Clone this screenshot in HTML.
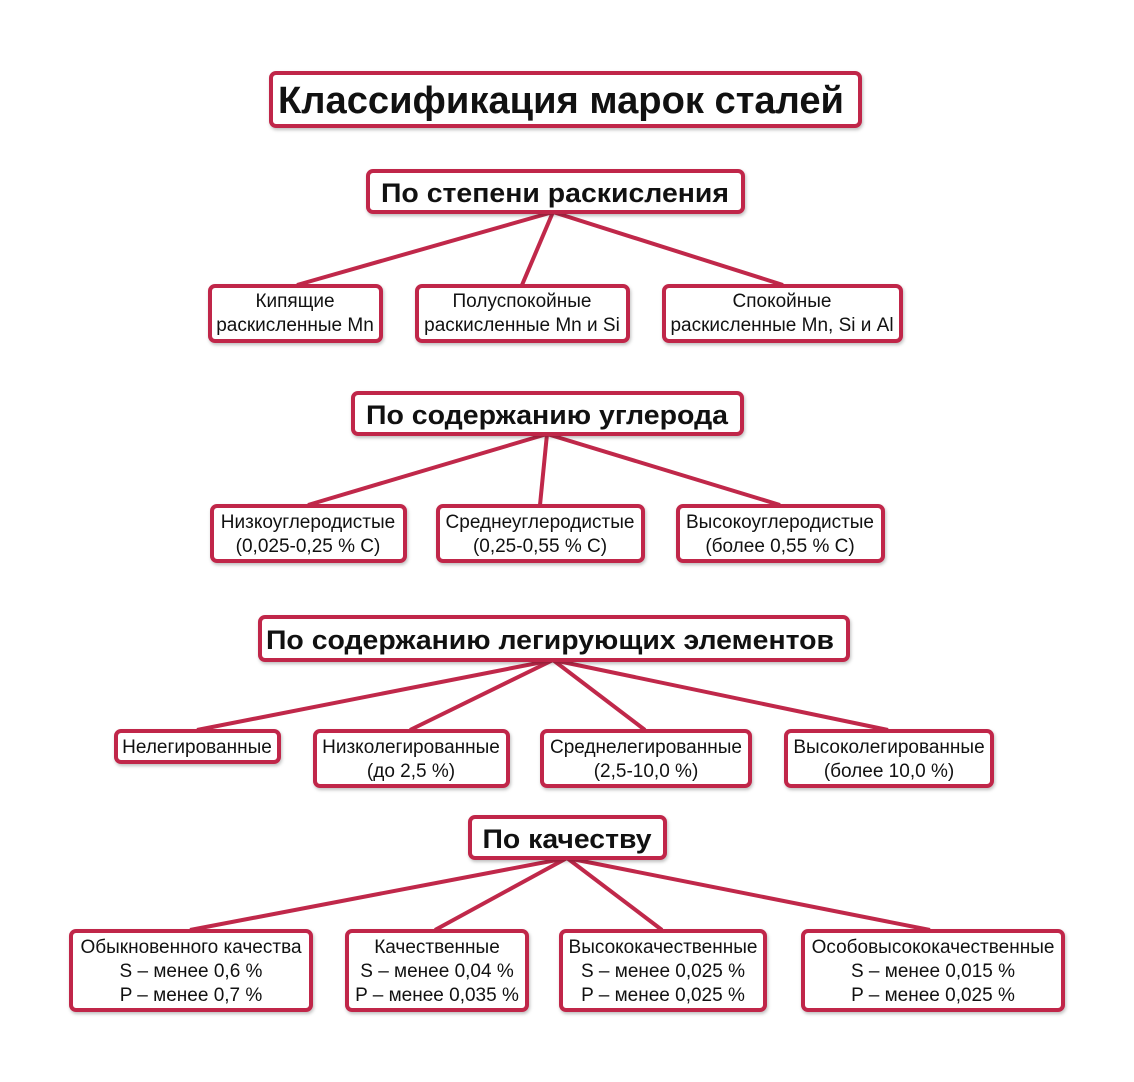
<!DOCTYPE html>
<html><head><meta charset="utf-8"><style>
html,body{margin:0;padding:0;background:#fff;}
svg{display:block}
text{font-family:"Liberation Sans","DejaVu Sans",sans-serif;fill:#111;}
.b{font-weight:bold}
</style></head><body>
<svg width="1134" height="1082" viewBox="0 0 1134 1082" xmlns="http://www.w3.org/2000/svg">
<defs><filter id="s" x="-10%" y="-10%" width="120%" height="130%"><feDropShadow dx="1" dy="2" stdDeviation="1.5" flood-color="#000" flood-opacity="0.25"/></filter></defs>
<g stroke="#c0284a" stroke-width="4" fill="none">
<line x1="553" y1="212" x2="297" y2="285"/><line x1="553" y1="212" x2="522" y2="285"/><line x1="553" y1="212" x2="783" y2="285"/>
<line x1="547" y1="434" x2="308" y2="505"/><line x1="547" y1="434" x2="540" y2="505"/><line x1="547" y1="434" x2="780" y2="505"/>
<line x1="553" y1="660" x2="197" y2="730"/><line x1="553" y1="660" x2="410" y2="730"/><line x1="553" y1="660" x2="645" y2="730"/><line x1="553" y1="660" x2="888" y2="730"/>
<line x1="567" y1="858" x2="190" y2="930"/><line x1="567" y1="858" x2="435" y2="930"/><line x1="567" y1="858" x2="662" y2="930"/><line x1="567" y1="858" x2="930" y2="930"/>
</g>
<g stroke="#c0284a" stroke-width="4" fill="#fff" filter="url(#s)">
<rect x="271" y="73" width="589" height="53" rx="5"/>
<rect x="368" y="171" width="375" height="41" rx="5"/>
<rect x="210" y="286" width="171" height="55" rx="5"/>
<rect x="417" y="286" width="211" height="55" rx="5"/>
<rect x="664" y="286" width="237" height="55" rx="5"/>
<rect x="353" y="393" width="389" height="41" rx="5"/>
<rect x="212" y="506" width="193" height="55" rx="5"/>
<rect x="438" y="506" width="205" height="55" rx="5"/>
<rect x="678" y="506" width="205" height="55" rx="5"/>
<rect x="260" y="617" width="588" height="43" rx="5"/>
<rect x="116" y="731" width="163" height="31" rx="5"/>
<rect x="315" y="731" width="193" height="55" rx="5"/>
<rect x="542" y="731" width="208" height="55" rx="5"/>
<rect x="786" y="731" width="206" height="55" rx="5"/>
<rect x="470" y="817" width="195" height="41" rx="5"/>
<rect x="71" y="931" width="240" height="79" rx="5"/>
<rect x="347" y="931" width="180" height="79" rx="5"/>
<rect x="561" y="931" width="204" height="79" rx="5"/>
<rect x="803" y="931" width="260" height="79" rx="5"/>
</g>
<g text-anchor="middle">
<text class="b" x="561" y="113" font-size="38" textLength="566" lengthAdjust="spacingAndGlyphs">Классификация марок сталей</text>
<text class="b" x="555" y="202" font-size="27" textLength="348" lengthAdjust="spacingAndGlyphs">По степени раскисления</text>
<text class="b" x="547" y="424" font-size="27" textLength="362" lengthAdjust="spacingAndGlyphs">По содержанию углерода</text>
<text class="b" x="550" y="649" font-size="27" textLength="568" lengthAdjust="spacingAndGlyphs">По содержанию легирующих элементов</text>
<text class="b" x="567" y="848" font-size="27" textLength="169" lengthAdjust="spacingAndGlyphs">По качеству</text>
<g font-size="19">
<text x="295" y="307">Кипящие</text><text x="295" y="331">раскисленные Mn</text>
<text x="522" y="307">Полуспокойные</text><text x="522" y="331">раскисленные Mn и Si</text>
<text x="782" y="307">Спокойные</text><text x="782" y="331">раскисленные Mn, Si и Al</text>
<text x="308" y="528">Низкоуглеродистые</text><text x="308" y="552">(0,025-0,25 % C)</text>
<text x="540" y="528">Среднеуглеродистые</text><text x="540" y="552">(0,25-0,55 % C)</text>
<text x="780" y="528">Высокоуглеродистые</text><text x="780" y="552">(более 0,55 % C)</text>
<text x="197" y="753">Нелегированные</text>
<text x="411" y="753">Низколегированные</text><text x="411" y="777">(до 2,5 %)</text>
<text x="646" y="753">Среднелегированные</text><text x="646" y="777">(2,5-10,0 %)</text>
<text x="889" y="753">Высоколегированные</text><text x="889" y="777">(более 10,0 %)</text>
<text x="191" y="953">Обыкновенного качества</text><text x="191" y="977">S – менее 0,6 %</text><text x="191" y="1001">P – менее 0,7 %</text>
<text x="437" y="953">Качественные</text><text x="437" y="977">S – менее 0,04 %</text><text x="437" y="1001">P – менее 0,035 %</text>
<text x="663" y="953">Высококачественные</text><text x="663" y="977">S – менее 0,025 %</text><text x="663" y="1001">P – менее 0,025 %</text>
<text x="933" y="953">Особовысококачественные</text><text x="933" y="977">S – менее 0,015 %</text><text x="933" y="1001">P – менее 0,025 %</text>
</g></g>
</svg>
</body></html>
